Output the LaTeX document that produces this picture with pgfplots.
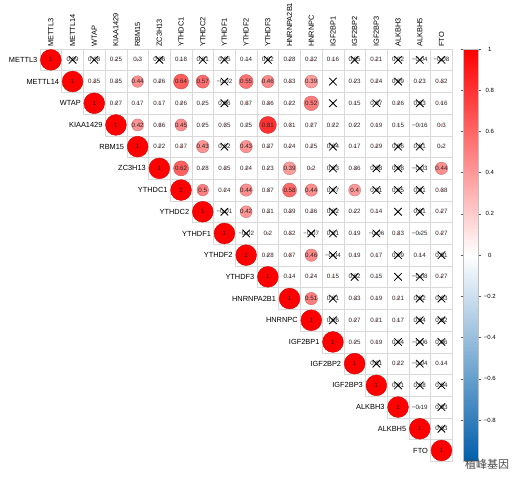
\documentclass[border=0pt]{standalone}
\usepackage{pgfplots}
\pgfplotsset{compat=1.18}
\usepackage{pgfplotstable}
\usepackage{fontspec}
\setmainfont{Liberation Sans}
\newfontfamily\cjk{Noto Sans CJK SC}

% x = column, y = row, v = correlation, r = circle radius (pt), lab = printed text
\pgfplotstableread{
x y v r lab
1 1 1 10.4 1
2 1 0.09 1.2 0.09
3 1 0.08 1.2 0.08
4 1 0.25 1.2 0.25
5 1 0.3 1.2 0.3
6 1 0.06 1.2 0.06
7 1 0.18 1.2 0.18
8 1 0.01 1.2 0.01
9 1 0.05 1.2 0.05
10 1 0.14 1.2 0.14
11 1 0.02 1.2 0.02
12 1 0.28 1.2 0.28
13 1 0.32 1.2 0.32
14 1 0.16 1.2 0.16
15 1 0.05 1.2 0.05
16 1 0.21 1.2 0.21
17 1 0.02 1.2 0.02
18 1 -0.04 1.2 −0.04
19 1 -0.08 1.2 −0.08
2 2 1 10.4 1
3 2 0.35 1.2 0.35
4 2 0.35 1.2 0.35
5 2 0.44 5.8 0.44
6 2 0.26 1.2 0.26
7 2 0.64 7.5 0.64
8 2 0.57 6.6 0.57
9 2 -0.02 1.2 −0.02
10 2 0.55 7.0 0.55
11 2 0.46 6.2 0.46
12 2 0.33 1.2 0.33
13 2 0.39 6.5 0.39
14 2 0 0 \relax
15 2 0.23 1.2 0.23
16 2 0.24 1.2 0.24
17 2 0.09 1.2 0.09
18 2 0.23 1.2 0.23
19 2 0.32 1.2 0.32
3 3 1 10.4 1
4 3 0.27 1.2 0.27
5 3 0.17 1.2 0.17
6 3 0.17 1.2 0.17
7 3 0.26 1.2 0.26
8 3 0.25 1.2 0.25
9 3 0.06 1.2 0.06
10 3 0.37 1.2 0.37
11 3 0.36 1.2 0.36
12 3 0.22 1.2 0.22
13 3 0.52 7.3 0.52
14 3 0 0 \relax
15 3 0.15 1.2 0.15
16 3 0.07 1.2 0.07
17 3 0.26 1.2 0.26
18 3 0.03 1.2 0.03
19 3 0.16 1.2 0.16
4 4 1 10.4 1
5 4 0.42 6.0 0.42
6 4 0.36 1.2 0.36
7 4 0.45 6.0 0.45
8 4 0.25 1.2 0.25
9 4 0.35 1.2 0.35
10 4 0.25 1.2 0.25
11 4 0.81 8.5 0.81
12 4 0.31 1.2 0.31
13 4 0.27 1.2 0.27
14 4 0.22 1.2 0.22
15 4 0.22 1.2 0.22
16 4 0.19 1.2 0.19
17 4 0.15 1.2 0.15
18 4 -0.16 1.2 −0.16
19 4 0.3 1.2 0.3
5 5 1 10.4 1
6 5 0.22 1.2 0.22
7 5 0.37 1.2 0.37
8 5 0.43 6.2 0.43
9 5 0.02 1.2 0.02
10 5 0.43 6.2 0.43
11 5 0.37 1.2 0.37
12 5 0.24 1.2 0.24
13 5 0.25 1.2 0.25
14 5 0.04 1.2 0.04
15 5 0.17 1.2 0.17
16 5 0.29 1.2 0.29
17 5 0.06 1.2 0.06
18 5 0.01 1.2 0.01
19 5 0.2 1.2 0.2
6 6 1 10.4 1
7 6 0.62 7.5 0.62
8 6 0.28 1.2 0.28
9 6 0.35 1.2 0.35
10 6 0.24 1.2 0.24
11 6 0.23 1.2 0.23
12 6 0.39 6.5 0.39
13 6 0.2 1.2 0.2
14 6 0.03 1.2 0.03
15 6 0.36 1.2 0.36
16 6 0.08 1.2 0.08
17 6 0.08 1.2 0.08
18 6 -0.03 1.2 −0.03
19 6 0.44 6.2 0.44
7 7 1 10.4 1
8 7 0.5 5.8 0.5
9 7 0.24 1.2 0.24
10 7 0.44 6.2 0.44
11 7 0.37 1.2 0.37
12 7 0.58 7.0 0.58
13 7 0.44 6.2 0.44
14 7 0.07 1.2 0.07
15 7 0.4 6.0 0.4
16 7 0.01 1.2 0.01
17 7 0.05 1.2 0.05
18 7 0.01 1.2 0.01
19 7 0.38 1.2 0.38
8 8 1 10.4 1
9 8 -0.01 1.2 −0.01
10 8 0.42 6.0 0.42
11 8 0.31 1.2 0.31
12 8 0.39 1.2 0.39
13 8 0.36 1.2 0.36
14 8 0.02 1.2 0.02
15 8 0.22 1.2 0.22
16 8 0.14 1.2 0.14
17 8 0 0 \relax
18 8 0.01 1.2 0.01
19 8 0.27 1.2 0.27
9 9 1 10.4 1
10 9 -0.02 1.2 −0.02
11 9 0.2 1.2 0.2
12 9 0.32 1.2 0.32
13 9 -0.07 1.2 −0.07
14 9 0.01 1.2 0.01
15 9 0.19 1.2 0.19
16 9 -0.06 1.2 −0.06
17 9 0.33 1.2 0.33
18 9 -0.25 1.2 −0.25
19 9 0.27 1.2 0.27
10 10 1 10.4 1
11 10 0.28 1.2 0.28
12 10 0.37 1.2 0.37
13 10 0.46 6.2 0.46
14 10 -0.04 1.2 −0.04
15 10 0.19 1.2 0.19
16 10 0.17 1.2 0.17
17 10 0.09 1.2 0.09
18 10 0.14 1.2 0.14
19 10 0.01 1.2 0.01
11 11 1 10.4 1
12 11 0.14 1.2 0.14
13 11 0.24 1.2 0.24
14 11 0.15 1.2 0.15
15 11 0.02 1.2 0.02
16 11 0.15 1.2 0.15
17 11 0 0 \relax
18 11 -0.08 1.2 −0.08
19 11 0.27 1.2 0.27
12 12 1 10.4 1
13 12 0.51 6.2 0.51
14 12 0.01 1.2 0.01
15 12 0.33 1.2 0.33
16 12 0.19 1.2 0.19
17 12 0.21 1.2 0.21
18 12 0.02 1.2 0.02
19 12 0.03 1.2 0.03
13 13 1 10.4 1
14 13 0.06 1.2 0.06
15 13 0.27 1.2 0.27
16 13 0.21 1.2 0.21
17 13 0.17 1.2 0.17
18 13 0.04 1.2 0.04
19 13 0.02 1.2 0.02
14 14 1 10.4 1
15 14 0.25 1.2 0.25
16 14 0.19 1.2 0.19
17 14 0.04 1.2 0.04
18 14 -0.06 1.2 −0.06
19 14 0.06 1.2 0.06
15 15 1 10.4 1
16 15 0.01 1.2 0.01
17 15 0.22 1.2 0.22
18 15 -0.04 1.2 −0.04
19 15 0.14 1.2 0.14
16 16 1 10.4 1
17 16 0.01 1.2 0.01
18 16 0.08 1.2 0.08
19 16 0.04 1.2 0.04
17 17 1 10.4 1
18 17 -0.19 1.2 −0.19
19 17 0.03 1.2 0.03
18 18 1 10.4 1
19 18 0.03 1.2 0.03
19 19 1 10.4 1
}\cells

\pgfplotstableread{
x y lab
0.5 1 METTL3
1.5 2 METTL14
2.5 3 WTAP
3.5 4 KIAA1429
4.5 5 RBM15
5.5 6 ZC3H13
6.5 7 YTHDC1
7.5 8 YTHDC2
8.5 9 YTHDF1
9.5 10 YTHDF2
10.5 11 YTHDF3
11.5 12 HNRNPA2B1
12.5 13 HNRNPC
13.5 14 IGF2BP1
14.5 15 IGF2BP2
15.5 16 IGF2BP3
16.5 17 ALKBH3
17.5 18 ALKBH5
18.5 19 FTO
}\rowlabs

\begin{document}
\begin{tikzpicture}
\useasboundingbox (-40pt,-26.7pt) rectangle (476pt,461.3pt);
\begin{axis}[
  at={(0pt,0pt)}, anchor=south west,
  width=412.3pt, height=412.3pt, scale only axis,
  xmin=0.5, xmax=19.5, ymin=0.5, ymax=19.5, y dir=reverse,
  clip=false,
  axis line style={draw=none},
  major tick length=0pt,
  xtick={1,...,19},
  xticklabels={METTL3,METTL14,WTAP,KIAA1429,RBM15,ZC3H13,YTHDC1,YTHDC2,YTHDF1,YTHDF2,YTHDF3,HNRNPA2B1,HNRNPC,IGF2BP1,IGF2BP2,IGF2BP3,ALKBH3,ALKBH5,FTO},
  xticklabel pos=upper,
  xticklabel style={rotate=90, anchor=west, font=\fontsize{7.4}{8}\selectfont, inner sep=2pt},
  ytick=\empty,
  colormap={cm}{rgb255=(0,94,170) rgb255=(255,255,255) rgb255=(255,0,0)},
  point meta min=-1, point meta max=1,
  colorbar,
  colorbar style={
    at={(parent axis.north east)}, anchor=north west, xshift=2.4pt,
    scale only axis, width=15pt, height=412.3pt,
    ytick={-0.8,-0.6,-0.4,-0.2,0,0.2,0.4,0.6,0.8,1},
    yticklabels={−0.8,−0.6,−0.4,−0.2,0,0.2,0.4,0.6,0.8,1},
    yticklabel style={font=\fontsize{6}{7}\selectfont, anchor=center, xshift=9pt},
    axis line style={draw=gray!50},
    tick align=outside, major tick length=2.5pt,
    tick style={draw=gray!70!black, line width=0.4pt},
  },
]
% cell borders
\addplot[only marks, mark=square, mark size=10.85pt, draw=gray!30, line width=0.6pt]
  table[x=x, y=y] {\cells};
% circles
\addplot[scatter, only marks, mark=*, point meta=\thisrow{v},
  visualization depends on={\thisrow{r} \as \rr},
  scatter/@pre marker code/.append style={/tikz/mark size=\rr}]
  table[x=x, y=y] {\cells};
% coefficient text
\addplot[draw=none, mark=none, nodes near coords, point meta=explicit symbolic,
  nodes near coords style={anchor=center, inner sep=0pt, font=\fontsize{6.2}{7}\selectfont, text=black!85}]
  table[x=x, y=y, meta=lab] {\cells};
% row labels
\addplot[draw=none, mark=none, nodes near coords, point meta=explicit symbolic,
  nodes near coords style={anchor=east, inner sep=2.5pt, font=\fontsize{7.4}{8}\selectfont, text=black}]
  table[x=x, y=y, meta=lab] {\rowlabs};
% insignificant crosses
\addplot[only marks, mark=x, mark size=5.3pt, draw=black, line width=0.8pt] coordinates {
(2,1) (3,1) (6,1) (8,1) (9,1) (11,1) (15,1) (17,1) (18,1) (19,1)
(9,2) (14,2) (17,2)
(9,3) (14,3) (16,3) (18,3)
(9,5) (14,5) (17,5) (18,5)
(14,6) (16,6) (17,6) (18,6)
(14,7) (16,7) (17,7) (18,7)
(9,8) (14,8) (17,8) (18,8)
(10,9) (13,9) (14,9) (16,9)
(14,10) (17,10) (19,10)
(15,11) (17,11) (18,11)
(14,12) (18,12) (19,12)
(14,13) (18,13) (19,13)
(17,14) (18,14) (19,14)
(16,15) (18,15)
(17,16) (18,16) (19,16)
(19,17)
(19,18)
};
\end{axis}
\node[font=\cjk\fontsize{11}{13}\selectfont, text=gray!55!black] at (447pt,-2.7pt) {植峰基因};
\end{tikzpicture}
\end{document}
